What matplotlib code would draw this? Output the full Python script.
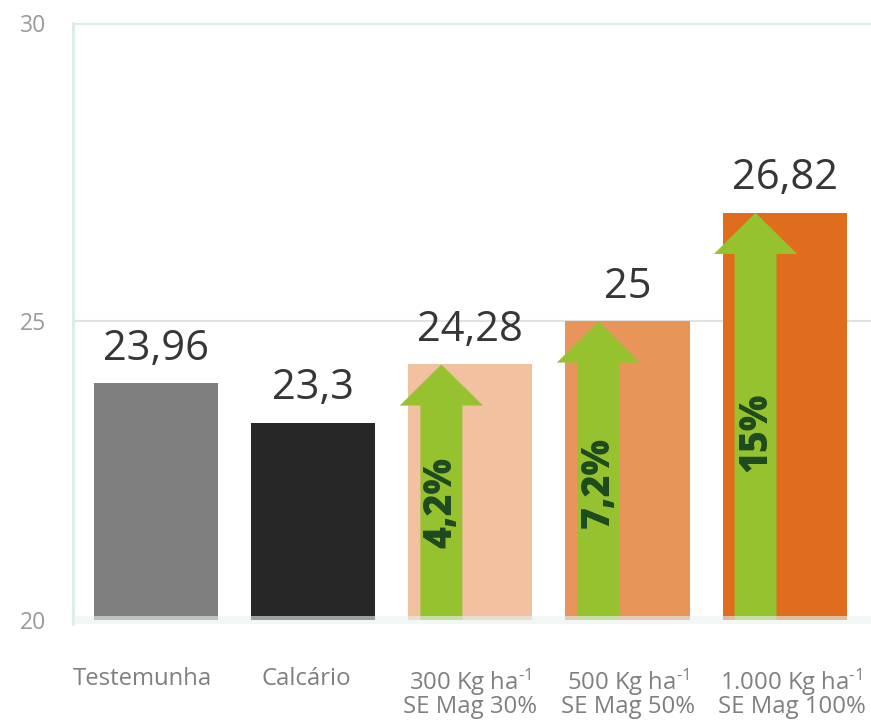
import matplotlib
matplotlib.use("Agg")
import matplotlib.pyplot as plt
import matplotlib.transforms as mtransforms
from matplotlib.patches import FancyArrow

# ============================================================
# Data
# ============================================================

CATEGORIES = [
    "Testemunha",
    "Calcário",
    "300 Kg ha$^{\\text{-1}}$\nSE Mag 30%",
    "500 Kg ha$^{\\text{-1}}$\nSE Mag 50%",
    "1.000 Kg ha$^{\\text{-1}}$\nSE Mag 100%",
]
VALUES = [23.96, 23.3, 24.28, 25.0, 26.82]
VALUE_LABELS = ["23,96", "23,3", "24,28", "25", "26,82"]
GAIN_LABELS = [None, None, "4,2%", "7,2%", "15%"]
BAR_COLORS = ["#7f7f7f", "#272727", "#f2c2a0", "#e8955a", "#e06c1e"]

GREEN = "#97c230"
DARK_GREEN = "#1d4a1f"
BASE = 20

# small horizontal nudges of the category labels (pixels)
LABEL_SHIFT = [-14, -7, 0, 1, 7]

plt.rcParams["font.family"] = ["Open Sans", "DejaVu Sans"]
plt.rcParams["mathtext.fontset"] = "custom"
plt.rcParams["mathtext.rm"] = "Open Sans"
plt.rcParams["mathtext.it"] = "Open Sans"

fig = plt.figure(figsize=(8.71, 7.2), dpi=100)
ax = fig.add_axes([73 / 871, 96 / 720, 1 - 73 / 871, (624 - 23) / 720])

x = list(range(len(CATEGORIES)))

ax.axhline(25, color="#e2e2e2", linewidth=1.5, zorder=0)
ax.axhline(30, color="#dcebe8", linewidth=2, zorder=0)

ax.bar(x, [v - BASE for v in VALUES], bottom=BASE, width=0.79,
       color=BAR_COLORS, zorder=2)

for xi, v, lab in zip(x, VALUES, VALUE_LABELS):
    ax.annotate(lab, (xi, v), xytext=(0, 17), textcoords="offset points",
                ha="center", va="baseline", fontsize=30, color="#363636",
                zorder=6)

for xi, v, g in zip(x, VALUES, GAIN_LABELS):
    if g is None:
        continue
    xa = xi - 0.185
    arrow = FancyArrow(xa, BASE, 0, v - BASE, width=0.267, head_width=0.53,
                       head_length=0.69, length_includes_head=True,
                       color=GREEN, linewidth=0, zorder=3)
    ax.add_patch(arrow)
    ax.text(xa, BASE + (v - BASE) * 0.46, g, rotation=90, ha="center",
            va="center", fontsize=27, fontweight=800, color=DARK_GREEN,
            zorder=5)

# light band along the base
ax.axhspan(19.93, 20.07, color="#e6f2ef", alpha=0.6, linewidth=0, zorder=4)

ax.set_xlim(-0.53, 4.55)
ax.set_ylim(19.93, 30)
ax.set_yticks([20, 25, 30])
ax.set_xticks(x)
ax.set_xticklabels(CATEGORIES)

for s in ["top", "right", "bottom"]:
    ax.spines[s].set_visible(False)
ax.spines["left"].set_color("#dcebe8")
ax.spines["left"].set_linewidth(2)

ax.tick_params(axis="y", length=0, pad=19, labelsize=16.5, labelcolor="#9a9a9a")
ax.tick_params(axis="x", length=0, pad=31, labelsize=17.2, labelcolor="#7f7f7f")
for t, dx in zip(ax.get_xticklabels(), LABEL_SHIFT):
    t.set_linespacing(0.8)
    t.set_transform(t.get_transform() +
                    mtransforms.ScaledTranslation(dx / 100, 0, fig.dpi_scale_trans))

fig.savefig("out.png", dpi=100)
